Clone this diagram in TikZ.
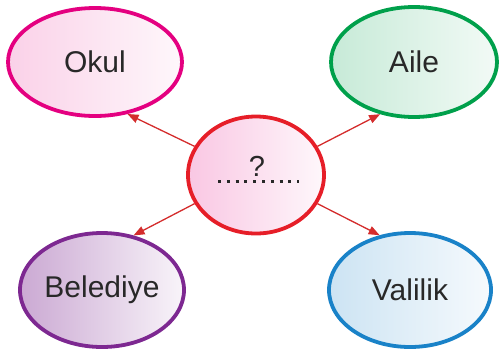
\documentclass[tikz,border=0pt]{standalone}
\usepackage{fontspec}
\setmainfont{Liberation Sans}
\usetikzlibrary{shapes.geometric,arrows.meta}
\definecolor{okulc}{RGB}{228,0,128}
\definecolor{ailec}{RGB}{0,160,75}
\definecolor{belc}{RGB}{125,40,145}
\definecolor{valc}{RGB}{25,130,200}
\definecolor{qc}{RGB}{230,30,40}
\definecolor{arrc}{RGB}{212,45,45}
\definecolor{txtc}{RGB}{40,40,40}
\tikzset{
  bubble/.style={ellipse, draw, line width=3.8pt, text=txtc,
    font=\fontsize{30}{32}\selectfont, inner sep=0pt},
  arr/.style={-{Triangle[length=11pt,width=8.5pt]}, draw=arrc, fill=arrc, line width=1.3pt}
}
\begin{document}
\begin{tikzpicture}[x=1pt,y=-1pt]
  \useasboundingbox (0,0) rectangle (503,354);
  \node [bubble, draw=okulc, left color=okulc!18, right color=okulc!3,
    minimum width=174pt, minimum height=108pt] (okul) at (95,62) {Okul};
  \node [bubble, draw=ailec, left color=ailec!22, right color=ailec!5,
    minimum width=166pt, minimum height=110pt] (aile) at (414,62) {Aile};
  \node [bubble, draw=belc, left color=belc!40, right color=belc!5,
    minimum width=164pt, minimum height=114pt] (belediye) at (102,290) {Belediye};
  \node [bubble, draw=valc, left color=valc!22, right color=valc!4,
    minimum width=162pt, minimum height=114pt] (valilik) at (410,290) {Valilik};
  \node [bubble, draw=qc, left color=okulc!22, right color=okulc!3,
    minimum width=136pt, minimum height=117pt] (soru) at (256,175) {};
  \node [text=txtc, font=\fontsize{29}{31}\selectfont, anchor=base] (isaret) at (257,176) {?};
  \coordinate (nokta1) at (218,181);
  \coordinate (nokta2) at (299,181);
  \draw [txtc, line width=3pt, dash pattern=on 3pt off 5.8pt] (nokta1) -- (nokta2);
  % oklar
  \draw [arr] (soru.155) -- (okul.-58);
  \draw [arr] (soru.25) -- (aile.237);
  \draw [arr] (soru.205) -- (belediye.60);
  \draw [arr] (soru.335) -- (valilik.119);
\end{tikzpicture}
\end{document}
